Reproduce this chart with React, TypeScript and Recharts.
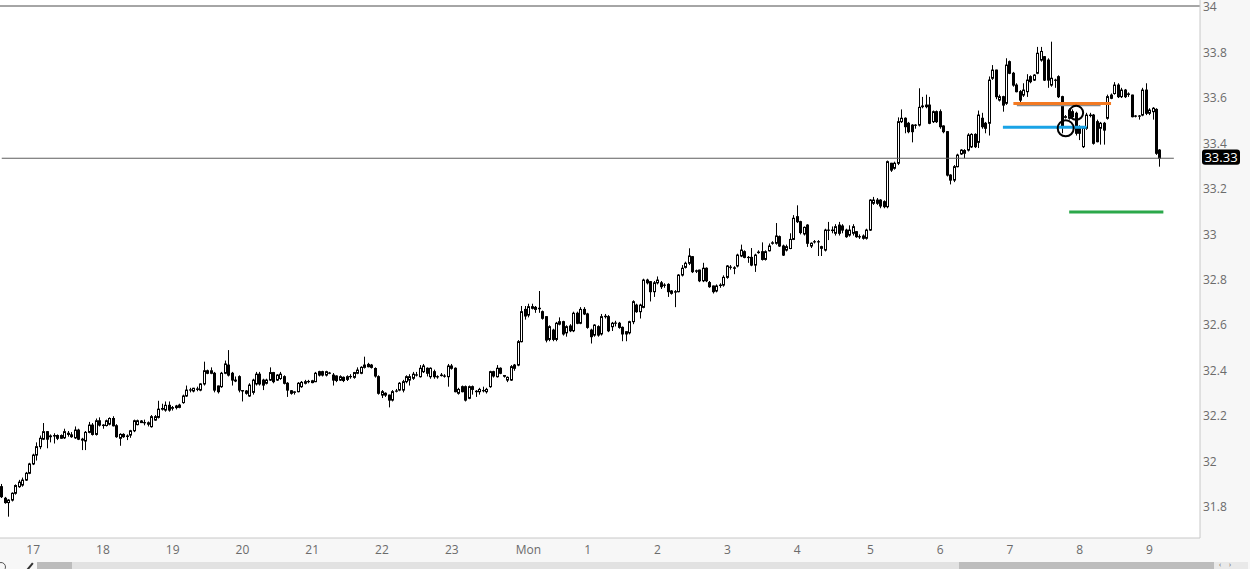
import React from 'react';
import { ComposedChart, Bar, XAxis, YAxis, CartesianGrid, ReferenceLine, ReferenceDot } from 'recharts';

// each candle: [open, high, low, close]
type OHLC = [number, number, number, number];

const sessionA: OHLC[] = [
  [31.885, 31.897, 31.835, 31.841], [31.834, 31.84, 31.81, 31.815], [31.815, 31.83, 31.753, 31.826], [31.826, 31.86, 31.82, 31.856],
  [31.856, 31.895, 31.85, 31.89], [31.885, 31.915, 31.88, 31.905], [31.892, 31.925, 31.885, 31.914], [31.914, 31.95, 31.91, 31.944],
  [31.944, 31.99, 31.94, 31.985], [31.985, 32.03, 31.98, 32.024], [32.024, 32.08, 32.0, 32.061], [32.061, 32.11, 32.05, 32.098],
  [32.094, 32.165, 32.09, 32.127], [32.127, 32.13, 32.054, 32.094], [32.105, 32.115, 32.08, 32.108], [32.108, 32.12, 32.075, 32.11],
  [32.11, 32.115, 32.09, 32.098], [32.098, 32.115, 32.095, 32.11], [32.1, 32.14, 32.095, 32.127], [32.12, 32.13, 32.105, 32.115],
  [32.113, 32.125, 32.1, 32.105], [32.1, 32.15, 32.095, 32.134], [32.134, 32.14, 32.09, 32.094], [32.094, 32.1, 32.046, 32.09],
  [32.086, 32.13, 32.046, 32.124], [32.124, 32.17, 32.12, 32.156], [32.156, 32.165, 32.11, 32.115], [32.115, 32.185, 32.11, 32.175],
  [32.175, 32.19, 32.15, 32.156], [32.156, 32.16, 32.14, 32.154], [32.154, 32.18, 32.15, 32.175], [32.16, 32.19, 32.155, 32.185],
  [32.185, 32.195, 32.15, 32.153], [32.153, 32.16, 32.1, 32.105], [32.098, 32.12, 32.065, 32.115], [32.115, 32.12, 32.1, 32.105],
  [32.106, 32.115, 32.09, 32.108], [32.112, 32.135, 32.1, 32.131], [32.131, 32.18, 32.125, 32.175], [32.158, 32.18, 32.155, 32.175],
  [32.174, 32.178, 32.165, 32.167], [32.167, 32.18, 32.155, 32.166], [32.166, 32.172, 32.15, 32.16], [32.149, 32.2, 32.145, 32.193],
  [32.178, 32.2, 32.175, 32.193], [32.19, 32.263, 32.185, 32.226], [32.226, 32.25, 32.22, 32.229], [32.222, 32.26, 32.215, 32.243],
  [32.243, 32.26, 32.215, 32.222], [32.23, 32.24, 32.22, 32.233], [32.233, 32.245, 32.225, 32.24], [32.234, 32.25, 32.23, 32.244],
];

const sessionB: OHLC[] = [
  [32.255, 32.29, 32.25, 32.284], [32.284, 32.33, 32.28, 32.31], [32.31, 32.32, 32.3, 32.311], [32.306, 32.32, 32.3, 32.318],
  [32.313, 32.325, 32.305, 32.315], [32.31, 32.34, 32.305, 32.337], [32.337, 32.435, 32.33, 32.395], [32.395, 32.4, 32.38, 32.384],
  [32.384, 32.41, 32.38, 32.395], [32.384, 32.39, 32.3, 32.31], [32.328, 32.33, 32.295, 32.303], [32.325, 32.39, 32.32, 32.384],
  [32.384, 32.44, 32.38, 32.425], [32.42, 32.486, 32.37, 32.376], [32.384, 32.39, 32.33, 32.354], [32.354, 32.37, 32.345, 32.35],
  [32.369, 32.375, 32.3, 32.31], [32.308, 32.31, 32.26, 32.306], [32.306, 32.31, 32.29, 32.296], [32.284, 32.34, 32.28, 32.332],
  [32.3, 32.36, 32.29, 32.354], [32.337, 32.39, 32.33, 32.38], [32.38, 32.39, 32.33, 32.337], [32.354, 32.36, 32.31, 32.332],
  [32.34, 32.36, 32.335, 32.354], [32.354, 32.41, 32.35, 32.387], [32.387, 32.39, 32.34, 32.347], [32.354, 32.38, 32.35, 32.376],
  [32.361, 32.39, 32.355, 32.38], [32.369, 32.375, 32.335, 32.34], [32.34, 32.345, 32.28, 32.31], [32.307, 32.31, 32.29, 32.296],
  [32.3, 32.305, 32.29, 32.302], [32.303, 32.345, 32.3, 32.34], [32.325, 32.35, 32.32, 32.344], [32.34, 32.355, 32.335, 32.347],
  [32.347, 32.355, 32.34, 32.348], [32.343, 32.355, 32.34, 32.351], [32.347, 32.39, 32.345, 32.384], [32.391, 32.395, 32.37, 32.376],
  [32.391, 32.395, 32.37, 32.376], [32.376, 32.395, 32.37, 32.391], [32.384, 32.39, 32.38, 32.385], [32.376, 32.385, 32.33, 32.354],
  [32.372, 32.375, 32.345, 32.352], [32.354, 32.375, 32.35, 32.369], [32.366, 32.37, 32.345, 32.352], [32.357, 32.375, 32.35, 32.369],
  [32.369, 32.38, 32.36, 32.37], [32.366, 32.39, 32.36, 32.387], [32.384, 32.41, 32.38, 32.398], [32.384, 32.415, 32.38, 32.41],
  [32.41, 32.457, 32.405, 32.42], [32.423, 32.43, 32.41, 32.413], [32.42, 32.425, 32.405, 32.41], [32.405, 32.41, 32.365, 32.372],
  [32.369, 32.375, 32.29, 32.296], [32.288, 32.31, 32.275, 32.303], [32.296, 32.3, 32.28, 32.288], [32.288, 32.29, 32.234, 32.266],
  [32.266, 32.31, 32.26, 32.303], [32.305, 32.315, 32.3, 32.306], [32.31, 32.345, 32.305, 32.34],
];

const sessionC: OHLC[] = [
  [32.31, 32.355, 32.3, 32.347], [32.347, 32.375, 32.34, 32.369], [32.354, 32.38, 32.33, 32.369], [32.362, 32.39, 32.355, 32.38],
  [32.377, 32.39, 32.37, 32.376], [32.369, 32.42, 32.365, 32.406], [32.391, 32.425, 32.385, 32.416], [32.406, 32.41, 32.37, 32.384],
  [32.369, 32.41, 32.36, 32.406], [32.391, 32.4, 32.36, 32.369], [32.369, 32.375, 32.36, 32.368], [32.374, 32.385, 32.37, 32.376],
  [32.372, 32.38, 32.365, 32.371], [32.369, 32.425, 32.325, 32.416], [32.416, 32.425, 32.4, 32.406], [32.406, 32.41, 32.3, 32.303],
  [32.296, 32.32, 32.29, 32.313], [32.325, 32.33, 32.3, 32.303], [32.325, 32.33, 32.26, 32.266], [32.274, 32.33, 32.27, 32.325],
  [32.325, 32.33, 32.29, 32.313], [32.305, 32.31, 32.28, 32.303], [32.303, 32.32, 32.29, 32.313], [32.308, 32.325, 32.3, 32.307],
  [32.303, 32.32, 32.295, 32.313], [32.325, 32.395, 32.32, 32.391], [32.391, 32.395, 32.365, 32.372], [32.369, 32.42, 32.365, 32.406],
  [32.406, 32.41, 32.38, 32.384], [32.374, 32.375, 32.365, 32.371], [32.354, 32.37, 32.345, 32.366], [32.354, 32.42, 32.35, 32.413],
  [32.42, 32.425, 32.395, 32.406], [32.42, 32.53, 32.415, 32.523], [32.523, 32.68, 32.52, 32.655], [32.665, 32.68, 32.62, 32.636],
  [32.64, 32.69, 32.63, 32.677], [32.677, 32.69, 32.665, 32.67], [32.665, 32.68, 32.65, 32.674], [32.67, 32.746, 32.65, 32.668],
  [32.655, 32.66, 32.62, 32.626], [32.633, 32.635, 32.52, 32.53], [32.533, 32.595, 32.525, 32.589], [32.574, 32.58, 32.525, 32.533],
  [32.533, 32.61, 32.525, 32.604], [32.6, 32.63, 32.595, 32.611], [32.611, 32.615, 32.55, 32.557], [32.562, 32.595, 32.545, 32.589],
  [32.592, 32.6, 32.565, 32.571], [32.571, 32.655, 32.565, 32.648], [32.648, 32.655, 32.6, 32.604], [32.604, 32.675, 32.6, 32.665],
  [32.665, 32.675, 32.64, 32.645], [32.645, 32.65, 32.58, 32.586], [32.574, 32.58, 32.515, 32.545], [32.552, 32.6, 32.545, 32.596],
  [32.589, 32.595, 32.545, 32.552], [32.557, 32.645, 32.55, 32.633], [32.633, 32.645, 32.625, 32.635], [32.633, 32.64, 32.565, 32.571],
  [32.589, 32.61, 32.57, 32.604], [32.604, 32.615, 32.59, 32.605], [32.604, 32.61, 32.58, 32.586], [32.586, 32.59, 32.525, 32.557],
  [32.557, 32.57, 32.525, 32.567], [32.562, 32.615, 32.555, 32.611],
];

const sessionD: OHLC[] = [
  [32.611, 32.705, 32.6, 32.699], [32.684, 32.69, 32.65, 32.655], [32.655, 32.69, 32.625, 32.684], [32.674, 32.8, 32.67, 32.794],
  [32.794, 32.8, 32.775, 32.782], [32.787, 32.79, 32.7, 32.743], [32.743, 32.79, 32.72, 32.782], [32.782, 32.81, 32.775, 32.794],
  [32.782, 32.79, 32.755, 32.765], [32.772, 32.78, 32.76, 32.771], [32.775, 32.78, 32.72, 32.743], [32.746, 32.75, 32.73, 32.736],
  [32.741, 32.75, 32.675, 32.743], [32.743, 32.82, 32.74, 32.816], [32.816, 32.86, 32.81, 32.846], [32.85, 32.875, 32.845, 32.868],
  [32.868, 32.934, 32.86, 32.9], [32.897, 32.9, 32.825, 32.831], [32.833, 32.84, 32.825, 32.835], [32.838, 32.84, 32.785, 32.791],
  [32.791, 32.87, 32.785, 32.846], [32.846, 32.85, 32.785, 32.791], [32.783, 32.79, 32.76, 32.765], [32.768, 32.77, 32.735, 32.743],
  [32.746, 32.775, 32.74, 32.768], [32.77, 32.78, 32.76, 32.772], [32.772, 32.815, 32.765, 32.806], [32.806, 32.86, 32.8, 32.856],
  [32.851, 32.86, 32.84, 32.85], [32.848, 32.855, 32.82, 32.846], [32.856, 32.91, 32.85, 32.904], [32.9, 32.95, 32.895, 32.926],
  [32.919, 32.925, 32.89, 32.894], [32.894, 32.9, 32.87, 32.893], [32.894, 32.935, 32.855, 32.86], [32.86, 32.91, 32.83, 32.904],
  [32.915, 32.925, 32.91, 32.917], [32.919, 32.96, 32.88, 32.885], [32.885, 32.925, 32.88, 32.919], [32.923, 32.955, 32.92, 32.944],
  [32.956, 32.965, 32.95, 32.958], [32.956, 33.045, 32.95, 32.988], [32.985, 32.99, 32.94, 32.944], [32.944, 32.95, 32.9, 32.904],
  [32.926, 32.95, 32.92, 32.941], [32.933, 33.0, 32.93, 32.973], [32.973, 33.08, 32.97, 33.066], [33.073, 33.123, 33.045, 33.051],
  [33.051, 33.055, 32.995, 33.003], [32.997, 33.03, 32.99, 33.026], [33.036, 33.04, 32.94, 32.956], [32.944, 32.96, 32.935, 32.956],
  [32.962, 32.97, 32.955, 32.963], [32.963, 32.97, 32.9, 32.962], [32.941, 32.945, 32.9, 32.934], [32.926, 33.02, 32.92, 33.014],
  [33.014, 33.05, 32.97, 33.013],
];

const sessionE: OHLC[] = [
  [33.014, 33.03, 33.0, 33.012], [33.0, 33.04, 32.99, 33.029], [33.036, 33.05, 32.99, 33.0], [33.032, 33.04, 33.0, 33.014],
  [33.014, 33.02, 32.98, 32.985], [32.992, 33.035, 32.985, 33.014], [33.0, 33.04, 32.99, 33.029], [33.007, 33.01, 32.98, 32.985],
  [32.985, 32.995, 32.975, 32.984], [32.988, 32.995, 32.972, 32.978], [32.978, 33.02, 32.972, 33.014], [33.014, 33.15, 33.01, 33.146],
  [33.132, 33.16, 33.125, 33.146], [33.146, 33.155, 33.125, 33.132], [33.146, 33.15, 33.11, 33.12], [33.139, 33.145, 33.11, 33.117],
  [33.117, 33.32, 33.11, 33.315], [33.308, 33.31, 33.27, 33.278], [33.286, 33.315, 33.28, 33.308], [33.308, 33.51, 33.3, 33.491],
  [33.491, 33.545, 33.485, 33.506], [33.506, 33.51, 33.44, 33.469], [33.484, 33.49, 33.44, 33.447], [33.476, 33.48, 33.4, 33.447],
  [33.476, 33.48, 33.46, 33.475], [33.476, 33.638, 33.47, 33.554], [33.557, 33.6, 33.55, 33.56], [33.557, 33.61, 33.55, 33.564],
  [33.564, 33.6, 33.48, 33.484], [33.491, 33.54, 33.485, 33.535], [33.535, 33.54, 33.485, 33.491], [33.535, 33.545, 33.46, 33.469],
  [33.472, 33.475, 33.44, 33.447], [33.447, 33.45, 33.25, 33.256], [33.256, 33.26, 33.215, 33.234], [33.234, 33.3, 33.225, 33.293],
  [33.293, 33.35, 33.29, 33.344], [33.349, 33.37, 33.345, 33.366], [33.352, 33.37, 33.33, 33.364], [33.366, 33.44, 33.36, 33.432],
  [33.38, 33.44, 33.375, 33.435], [33.435, 33.44, 33.375, 33.381], [33.4, 33.54, 33.375, 33.52], [33.506, 33.53, 33.46, 33.469],
  [33.484, 33.49, 33.44, 33.462], [33.484, 33.69, 33.43, 33.674], [33.682, 33.74, 33.675, 33.718], [33.718, 33.72, 33.59, 33.601],
  [33.586, 33.61, 33.58, 33.601], [33.601, 33.605, 33.535, 33.564], [33.572, 33.77, 33.565, 33.74], [33.755, 33.76, 33.7, 33.704],
  [33.704, 33.71, 33.645, 33.652], [33.652, 33.66, 33.62, 33.623], [33.623, 33.63, 33.575, 33.586], [33.608, 33.66, 33.6, 33.63],
  [33.623, 33.7, 33.6, 33.674], [33.689, 33.695, 33.66, 33.667], [33.674, 33.7, 33.67, 33.696], [33.704, 33.82, 33.7, 33.792],
  [33.762, 33.82, 33.755, 33.8], [33.777, 33.78, 33.67, 33.674], [33.762, 33.77, 33.64, 33.674],
];

const sessionF: OHLC[] = [
  [33.652, 33.843, 33.645, 33.682], [33.674, 33.68, 33.64, 33.673], [33.689, 33.695, 33.595, 33.601], [33.601, 33.605, 33.44, 33.469],
  [33.51, 33.52, 33.505, 33.513], [33.506, 33.55, 33.5, 33.542], [33.535, 33.545, 33.505, 33.513], [33.528, 33.535, 33.43, 33.44],
  [33.469, 33.475, 33.41, 33.44], [33.381, 33.47, 33.375, 33.462], [33.462, 33.53, 33.455, 33.52], [33.52, 33.53, 33.51, 33.518],
  [33.52, 33.525, 33.39, 33.396], [33.491, 33.5, 33.4, 33.403], [33.462, 33.49, 33.39, 33.484], [33.484, 33.49, 33.39, 33.454],
  [33.506, 33.61, 33.5, 33.601], [33.608, 33.615, 33.59, 33.594], [33.615, 33.665, 33.61, 33.652], [33.652, 33.66, 33.595, 33.601],
  [33.601, 33.64, 33.595, 33.63], [33.63, 33.635, 33.595, 33.601], [33.613, 33.62, 33.6, 33.611], [33.608, 33.61, 33.51, 33.513],
  [33.516, 33.52, 33.51, 33.515], [33.515, 33.52, 33.5, 33.516], [33.52, 33.64, 33.515, 33.63], [33.63, 33.66, 33.52, 33.528],
  [33.528, 33.55, 33.52, 33.542], [33.535, 33.555, 33.5, 33.55], [33.545, 33.55, 33.345, 33.352], [33.366, 33.37, 33.293, 33.33],
];

const candles: OHLC[] = [...sessionA, ...sessionB, ...sessionC, ...sessionD, ...sessionE, ...sessionF];
const emptySlotsRight = 11;

const priceTicks = [31.8, 32, 32.2, 32.4, 32.6, 32.8, 33, 33.2, 33.4, 33.6, 33.8, 34];
const priceDomain: [number, number] = [31.6592, 34.0264];
const hourTickSlots = [9, 29, 49, 69, 89, 109, 129, 151, 168, 188, 208, 228, 249, 269, 289, 309, 329];
const hourLabels = ['17', '18', '19', '20', '21', '22', '23', 'Mon', '1', '2', '3', '4', '5', '6', '7', '8', '9'];

// user drawings (slot index, price)
const topLine = 34;
const lastPriceLineEnd = 336;
const orangeLine = { from: 290, to: 318, price: 33.571 };
const greyLine = { from: 291, to: 315, price: 33.562 };
const blueLine = { from: 287, to: 311, price: 33.466 };
const greenLine = { from: 306, to: 333, price: 33.094 };
const circles = [
  { slot: 308, price: 33.53, r: 7 },
  { slot: 305, price: 33.462, r: 8 },
];

const rows: any[] = [
  ...candles.map(([o, h, l, c], i) => ({ i, o, h, l, c })),
  ...Array.from({ length: emptySlotsRight }, (_, k) => ({ i: candles.length + k })),
];
const lastClose = candles[candles.length - 1][3];

const FONT = "'Open Sans', 'Noto Sans', sans-serif";
const AXIS_TEXT = '#6b6b6b';

const Candle = (props: any) => {
  const { x, y, width, height, payload } = props;
  if (!payload || payload.o == null || x == null || y == null || isNaN(y) || isNaN(height)) return null;
  const { o, h, l, c } = payload;
  const yTop = Math.min(y, y + height);
  const yBot = Math.max(y, y + height);
  const span = h - l;
  const k = span > 0 ? (yBot - yTop) / span : 0;
  const py = (v: number) => yTop + (h - v) * k;
  const cx = Math.floor(x + width / 2) + 0.5;
  const bTop = py(Math.max(o, c));
  const bBot = py(Math.min(o, c));
  const up = c >= o;
  return (
    <g>
      <line x1={cx} x2={cx} y1={yTop} y2={yBot} stroke="#000" strokeWidth={1} />
      <rect x={cx - 1} y={bTop} width={2} height={Math.max(bBot - bTop, 0.01)} fill={up ? '#fff' : '#000'} stroke="#000" strokeWidth={1} />
    </g>
  );
};

const PriceTag = (props: any) => {
  const vb = props.viewBox || {};
  const ly = vb.y;
  const rx = vb.x + vb.width + 2;
  if (ly == null || isNaN(rx)) return null;
  return (
    <g>
      <rect x={rx} y={ly - 8.8} width={38} height={15.2} rx={3} ry={3} fill="#000" />
      <text x={rx + 19} y={ly - 1.4} textAnchor="middle" dominantBaseline="central" fill="#fff" fontSize={13} fontFamily={FONT}>
        {lastClose.toFixed(2)}
      </text>
    </g>
  );
};

export default function App() {
  return (
    <div style={{ position: 'absolute', left: 0, top: 0, width: 1250, height: 569, background: '#f7f7f7', overflow: 'hidden' }}>
      <ComposedChart width={1250} height={561} data={rows} margin={{ top: 0, right: 0, bottom: 0, left: 0 }}>
        <CartesianGrid horizontal={false} vertical={false} fill="#ffffff" />
        <XAxis
          dataKey="i"
          type="category"
          ticks={hourTickSlots}
          interval={0}
          tickFormatter={(v: any) => hourLabels[hourTickSlots.indexOf(Number(v))] ?? ''}
          tickLine={false}
          tickSize={0}
          tickMargin={7}
          axisLine={{ stroke: '#c8c8c8' }}
          height={23}
          tick={{ fontSize: 12, fill: AXIS_TEXT, fontFamily: FONT }}
        />
        <YAxis
          orientation="right"
          type="number"
          domain={priceDomain}
          allowDataOverflow
          ticks={priceTicks}
          interval={0}
          tickFormatter={(v: number) => String(Number(v.toFixed(1)))}
          tickLine={false}
          tickSize={0}
          tickMargin={3}
          axisLine={{ stroke: '#c8c8c8' }}
          width={50}
          tick={{ fontSize: 12, fill: AXIS_TEXT, fontFamily: FONT, dy: 1 }}
        />
        <Bar
          dataKey={(d: any) => (d.o == null ? null : [d.l, d.h])}
          shape={Candle}
          isAnimationActive={false}
        />
        <ReferenceLine y={topLine} stroke="#4d4d4d" strokeWidth={1} />
        <ReferenceLine
          segment={[{ x: 0, y: lastClose }, { x: lastPriceLineEnd, y: lastClose }]}
          stroke="#5e5e5e"
          strokeWidth={1.2}
        />
        <ReferenceLine y={lastClose} stroke="none" label={(p: any) => <PriceTag {...p} />} />
        <ReferenceLine
          segment={[{ x: greyLine.from, y: greyLine.price }, { x: greyLine.to, y: greyLine.price }]}
          stroke="#8c8c8c"
          strokeWidth={1.5}
        />
        <ReferenceLine
          segment={[{ x: orangeLine.from, y: orangeLine.price }, { x: orangeLine.to, y: orangeLine.price }]}
          stroke="#f47a22"
          strokeWidth={3}
        />
        <ReferenceLine
          segment={[{ x: blueLine.from, y: blueLine.price }, { x: blueLine.to, y: blueLine.price }]}
          stroke="#19a3e6"
          strokeWidth={3}
        />
        <ReferenceLine
          segment={[{ x: greenLine.from, y: greenLine.price }, { x: greenLine.to, y: greenLine.price }]}
          stroke="#2ba84a"
          strokeWidth={3}
        />
        {circles.map((c, k) => (
          <ReferenceDot key={k} x={c.slot} y={c.price} r={c.r} fill="none" stroke="#000" strokeWidth={2} />
        ))}
      </ComposedChart>
      {/* bottom navigator strip */}
      <div style={{ position: 'absolute', left: -4, top: 562, width: 10, height: 10, borderRadius: '50%', border: '1.5px solid #555', boxSizing: 'border-box' }} />
      <div style={{ position: 'absolute', left: 29, top: 562, width: 1.5, height: 9, background: '#333', transform: 'rotate(40deg)' }} />
      <div style={{ position: 'absolute', left: 37, top: 562, width: 35, height: 7, background: '#bcbcbc' }} />
      <div style={{ position: 'absolute', left: 72, top: 562, width: 1142, height: 7, background: '#e2e2e2' }} />
      <div style={{ position: 'absolute', left: 959, top: 562, width: 255, height: 7, background: '#bdbdbd' }} />
      <div style={{ position: 'absolute', left: 1214, top: 562, width: 34, height: 7, background: '#e9e9e9' }} />
      <div style={{ position: 'absolute', left: 1219, top: 561, fontSize: 7, lineHeight: '7px', color: '#555', fontFamily: FONT, letterSpacing: 8 }}>‹›</div>
    </div>
  );
}
